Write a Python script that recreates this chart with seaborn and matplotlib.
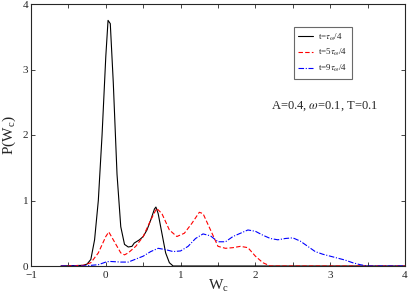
import numpy as np
import pandas as pd
import matplotlib
matplotlib.use('Agg')
import matplotlib.pyplot as plt
import seaborn as sns
from matplotlib.ticker import MultipleLocator

# t = tau/4 (black, solid)
x1 = [-0.6, -0.3, -0.25, -0.2, -0.15, -0.1, -0.05, 0.0, 0.03, 0.06, 0.1, 0.15, 0.2, 0.25,
      0.3, 0.35, 0.38, 0.45, 0.5, 0.55, 0.6, 0.65, 0.67, 0.7, 0.75, 0.8, 0.85, 0.9, 4.0]
y1 = [0.0, 0.01, 0.03, 0.1, 0.4, 1.0, 2.0, 3.2, 3.75, 3.7, 2.8, 1.4, 0.6, 0.33,
      0.29, 0.3, 0.35, 0.4, 0.45, 0.55, 0.7, 0.87, 0.9, 0.8, 0.5, 0.2, 0.05, 0.0, 0.0]

# t = 5tau/4 (red, dashed)
x2 = [-0.6, -0.3, -0.2, -0.1, 0.0, 0.04, 0.1, 0.2, 0.25, 0.3, 0.4, 0.5, 0.6, 0.68, 0.75,
      0.85, 0.95, 1.05, 1.15, 1.25, 1.3, 1.4, 1.5, 1.6, 1.7, 1.8, 1.9, 2.0, 2.1, 2.2, 4.0]
y2 = [0.0, 0.01, 0.05, 0.2, 0.45, 0.52, 0.4, 0.2, 0.17, 0.2, 0.3, 0.45, 0.7, 0.88, 0.8,
      0.55, 0.45, 0.5, 0.65, 0.82, 0.8, 0.55, 0.3, 0.27, 0.28, 0.3, 0.28, 0.15, 0.05, 0.0, 0.0]

# t = 9tau/4 (blue, dash-dot)
x3 = [-0.6, -0.3, -0.1, 0.0, 0.05, 0.2, 0.3, 0.5, 0.6, 0.7, 0.8, 0.9, 1.0, 1.1, 1.2, 1.3,
      1.4, 1.5, 1.6, 1.7, 1.8, 1.9, 2.0, 2.1, 2.2, 2.3, 2.4, 2.5, 2.6, 2.7, 2.8, 2.9,
      3.0, 3.1, 3.2, 3.3, 3.4, 3.5, 4.0]
y3 = [0.0, 0.0, 0.02, 0.06, 0.07, 0.06, 0.06, 0.15, 0.22, 0.27, 0.25, 0.22, 0.23, 0.3, 0.42, 0.49,
      0.46, 0.37, 0.37, 0.45, 0.5, 0.55, 0.53, 0.47, 0.42, 0.4, 0.42, 0.43, 0.38, 0.3, 0.22, 0.18,
      0.15, 0.12, 0.09, 0.05, 0.02, 0.0, 0.0]

labels = [r't=$\tau_\omega$/4', r't=5$\tau_\omega$/4', r't=9$\tau_\omega$/4']
colors = ['black', 'red', 'blue']
styles = ['-', (0, (4, 2)), (0, (5, 1.5, 1, 1.5))]

sns.set_style('ticks')
plt.rcParams['font.family'] = ['Liberation Serif', 'DejaVu Serif']
plt.rcParams['mathtext.fontset'] = 'stix'

fig = plt.figure(figsize=(4.09, 2.99), dpi=100)
ax = fig.add_axes([31 / 409, 33 / 299, 374 / 409, 262 / 299])

for xs, ys, lab, c, ls in zip([x1, x2, x3], [y1, y2, y3], labels, colors, styles):
    df = pd.DataFrame({'W': xs, 'P': ys})
    sns.lineplot(data=df, x='W', y='P', ax=ax, color=c, linestyle=ls, linewidth=0.8,
                 label=lab, sort=False)

ax.set_xlim(-1, 4)
ax.set_ylim(0, 4)
ax.xaxis.set_major_locator(MultipleLocator(1))
ax.xaxis.set_minor_locator(MultipleLocator(0.5))
ax.yaxis.set_major_locator(MultipleLocator(1))
ax.tick_params(which='both', direction='in', top=True, right=True, length=3,
               width=0.6, labelsize=8, pad=2)
ax.tick_params(axis='x', pad=3.5)
for s in ax.spines.values():
    s.set_linewidth(0.8)

ax.set_xlabel(r'W$_\mathregular{c}$', fontsize=11)
ax.set_ylabel(r'P(W$_\mathregular{c}$)', fontsize=11)
ax.xaxis.set_label_coords(0.5, -0.045)
ax.yaxis.set_label_coords(-0.036, 0.5)

ax.text(2.93, 2.44, r'A=0.4, $\omega$=0.1, T=0.1', fontsize=9, ha='center', va='center')

leg = ax.legend(loc='upper left', bbox_to_anchor=(0.69, 0.93), fontsize=6.5, frameon=True,
                fancybox=False, edgecolor='#444444', handlelength=1.6, handletextpad=0.6,
                borderpad=0.5, labelspacing=0.5)
leg.get_frame().set_linewidth(0.8)

fig.savefig('out.png', dpi=100)
